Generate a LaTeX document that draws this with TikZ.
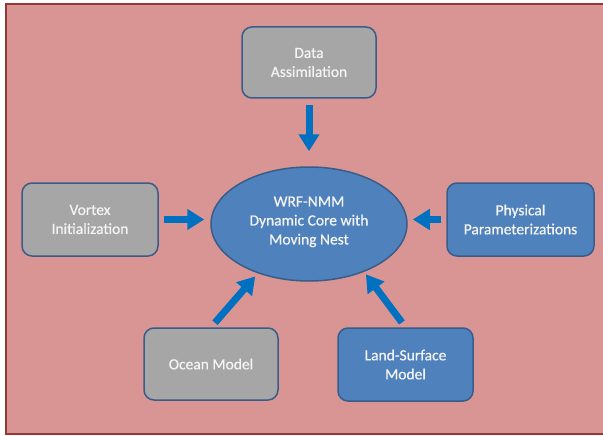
\documentclass[tikz,border=0pt]{standalone}
\usepackage{fontspec}
\setmainfont{Carlito}
\newfontfamily\lblfont{Carlito}[FakeBold=0.6]
\usetikzlibrary{arrows.meta,shapes.geometric}
\definecolor{bgred}{HTML}{D99594}
\definecolor{framered}{HTML}{953735}
\definecolor{boxgray}{HTML}{A6A6A6}
\definecolor{boxblue}{HTML}{4F81BD}
\definecolor{edgeblue}{HTML}{385D8A}
\definecolor{arrblue}{HTML}{0070C0}
\definecolor{txt}{HTML}{F4F4F4}
\begin{document}
\begin{tikzpicture}[x=1pt,y=-1pt,
  lbl/.style={text=txt, align=center, font=\lblfont\fontsize{15.5}{19}\selectfont},
  box/.style={lbl, draw=edgeblue, line width=1.5pt, rounded corners=10pt, inner sep=0pt},
  graybox/.style={box, fill=boxgray},
  bluebox/.style={box, fill=boxblue},
  arr/.style={draw=arrblue, line width=7pt, -{Triangle[width=20pt,length=17pt]}}]
\useasboundingbox (0,0) rectangle (603,436);
\fill[white] (0,0) rectangle (603,436);
\fill[bgred] (6,4) rectangle (603,434);
\draw[framered, line width=2pt] (603,4) -- (6,4) -- (6,434) -- (603,434);
% nodes
\node[ellipse, lbl, draw=edgeblue, fill=boxblue, line width=1.5pt, inner sep=0pt,
      minimum width=196pt, minimum height=114pt] (core) at (309,224)
      {WRF-NMM\\Dynamic Core with\\Moving Nest\\[-12pt]\mbox{}};
\node[graybox, minimum width=134pt, minimum height=71pt] (da) at (309,62.5) {Data\\Assimilation};
\node[graybox, minimum width=136pt, minimum height=73pt] (vi) at (90,219.5) {Vortex\\Initialization};
\node[bluebox, minimum width=147pt, minimum height=73pt] (pp) at (520.5,219.5) {Physical\\Parameterizations};
\node[graybox, minimum width=134pt, minimum height=72pt] (oc) at (211,364) {Ocean Model};
\node[bluebox, minimum width=135pt, minimum height=73pt] (ls) at (405.5,364.5) {Land-Surface\\Model};
% arrows
\draw[arr, shorten <=6pt, shorten >=15pt] (da.south) -- (core.north);
\draw[arr, shorten <=5pt, shorten >=6pt] (vi.east) -- (vi.east -| core.west);
\draw[arr, shorten <=5pt, shorten >=5pt] (pp.west) -- (pp.west -| core.east);
\draw[arr, shorten <=6pt, shorten >=4pt] (oc.north) -- (core.224);
\draw[arr, shorten <=6pt, shorten >=3pt] (ls.north) -- (core.319.5);
\end{tikzpicture}
\end{document}
